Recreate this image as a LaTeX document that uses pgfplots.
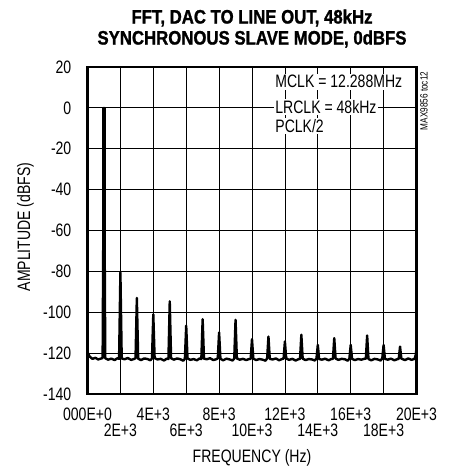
\documentclass[border=0pt]{standalone}
\usepackage{pgfplots}
\pgfplotsset{compat=1.18}
\usepackage{fontspec}
\setmainfont{Liberation Sans}[FakeStretch=0.78]
\newfontfamily\titlefont{Liberation Sans}[FakeStretch=0.86, BoldFeatures={FakeBold=1.2}]
\newcommand\fs{\fontsize{18bp}{20bp}\selectfont}
\begin{document}
\begin{tikzpicture}
\path[use as bounding box] (-87.5bp,-74bp) rectangle (361.5bp,394bp);
\begin{axis}[
  at={(0,0)}, anchor=south west,
  scale only axis, width=329bp, height=327bp,
  xmin=0, xmax=20000, ymin=-140, ymax=20,
  xtick={0,4000,8000,12000,16000,20000},
  xticklabels={000E+0,4E+3,8E+3,12E+3,16E+3,20E+3},
  extra x ticks={2000,6000,10000,14000,18000},
  extra x tick labels={2E+3,6E+3,10E+3,14E+3,18E+3},
  extra x tick style={xticklabel style={yshift=-16bp}},
  ytick={-140,-120,...,20},
  yticklabels={-140,-120,-100,-80,-60,-40,-20,0,20},
  scaled x ticks=false,
  major tick length=0pt,
  grid=major,
  major grid style={black, line width=0.8bp},
  axis line style={black, line width=2.6bp},
  tick label style={font=\fs, inner sep=0pt},
  xticklabel style={anchor=north, yshift=-14bp},
  yticklabel style={anchor=east, xshift=-16bp},
  /pgf/number format/assume math mode=true,
  clip=true,
]
\addplot[black, line width=2.4bp, line join=round] coordinates {
(0,-119.5) (120,-121.6) (300,-122.8) (480,-122.3) (650,-123.1) (840,-122.6)
(920,-122.4) (1000,0) (1080,-122.5) (1250,-123.2) (1450,-122.7) (1650,-123.4) (1820,-122.5)
(1920,-122.8) (2000,-80.5) (2080,-122.6) (2250,-123.0) (2450,-122.4) (2650,-123.3) (2820,-122.9)
(2920,-122.5) (3000,-93) (3080,-122.7) (3250,-123.4) (3450,-122.6) (3650,-122.9) (3820,-123.5)
(3920,-122.6) (4000,-101) (4080,-122.4) (4250,-123.1) (4450,-122.8) (4650,-123.6) (4820,-122.7)
(4920,-122.9) (5000,-94.7) (5080,-122.5) (5250,-123.2) (5450,-122.6) (5650,-123.0) (5820,-123.7)
(5920,-122.8) (6000,-106.6) (6080,-122.6) (6250,-123.3) (6450,-122.9) (6650,-123.5) (6820,-122.6)
(6920,-122.9) (7000,-103.4) (7080,-122.7) (7250,-123.0) (7450,-122.5) (7650,-123.4) (7820,-123.0)
(7920,-122.6) (8000,-109.9) (8080,-122.8) (8250,-123.5) (8450,-122.7) (8650,-123.1) (8820,-123.6)
(8920,-122.7) (9000,-103.7) (9080,-122.6) (9250,-123.2) (9450,-122.8) (9650,-123.4) (9820,-122.9)
(9920,-122.8) (10000,-113.2) (10080,-122.7) (10250,-123.4) (10450,-122.9) (10650,-123.2) (10820,-123.7)
(10920,-122.6) (11000,-111.9) (11080,-122.8) (11250,-123.1) (11450,-122.6) (11650,-123.5) (11820,-122.9)
(11920,-122.7) (12000,-114.3) (12080,-122.6) (12250,-123.3) (12450,-122.8) (12650,-123.6) (12820,-123.0)
(12920,-122.8) (13000,-111) (13080,-122.7) (13250,-123.4) (13450,-122.9) (13650,-123.1) (13820,-123.6)
(13920,-122.6) (14000,-116) (14080,-122.9) (14250,-123.2) (14450,-122.7) (14650,-123.5) (14820,-122.9)
(14920,-122.8) (15000,-112.7) (15080,-122.6) (15250,-123.3) (15450,-122.8) (15650,-123.0) (15820,-123.7)
(15920,-122.7) (16000,-116) (16080,-122.8) (16250,-123.4) (16450,-122.9) (16650,-123.2) (16820,-122.8)
(16920,-122.7) (17000,-111.4) (17080,-122.9) (17250,-123.5) (17450,-122.8) (17650,-123.1) (17820,-123.6)
(17920,-122.6) (18000,-116) (18080,-122.8) (18250,-123.2) (18450,-122.7) (18650,-123.5) (18820,-123.0)
(18920,-122.8) (19000,-116.8) (19080,-122.7) (19300,-123.4) (19500,-122.6) (19700,-123.3) (19880,-122.8)
(19950,-121.0) (20000,-117.5)
};
\addplot[black, line width=3.4bp] coordinates {(1000,-122) (1000,0)};
\node[fill=white, inner sep=1.5bp, anchor=west, font=\fs] at (axis cs:11320,12.8) {MCLK = 12.288MHz};
\node[fill=white, inner sep=1.5bp, anchor=west, font=\fs] at (axis cs:11320,0.4) {LRCLK = 48kHz};
\node[fill=white, inner sep=1.5bp, anchor=west, font=\fs] at (axis cs:11320,-8.7) {PCLK/2};
\end{axis}
\node[font=\titlefont\bfseries\fontsize{19.5bp}{22bp}\selectfont, inner sep=0pt] at (164.5bp,376bp) {FFT, DAC TO LINE OUT, 48kHz};
\node[font=\titlefont\bfseries\fontsize{19.5bp}{22bp}\selectfont, inner sep=0pt] at (164.5bp,355bp) {SYNCHRONOUS SLAVE MODE, 0dBFS};
\node[font=\fs, inner sep=0pt, anchor=north] at (164.5bp,-55bp) {FREQUENCY (Hz)};
\node[font=\fs, inner sep=0pt, rotate=90] at (-62bp,167bp) {AMPLITUDE (dBFS)};
\node[font=\fontsize{10.5bp}{12bp}\selectfont, inner sep=0pt, rotate=90] at (336.5bp,293bp) {MAX9856 toc12};
\end{tikzpicture}
\end{document}
